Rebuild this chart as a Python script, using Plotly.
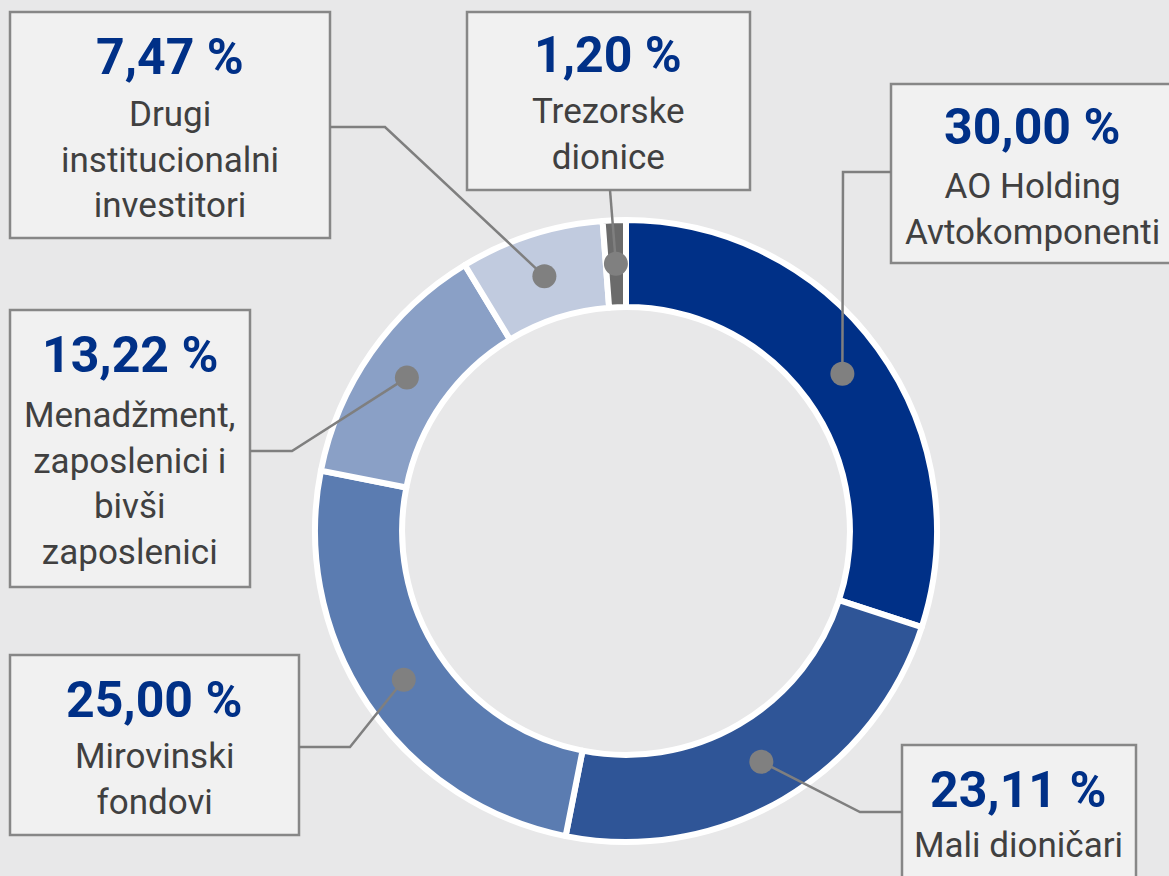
import math
import plotly.graph_objects as go

# ownership structure, clockwise from 12 o'clock
holders = ["AO Holding Avtokomponenti", "Mali dioničari", "Mirovinski fondovi",
           "Menadžment, zaposlenici i bivši zaposlenici",
           "Drugi institucionalni investitori", "Trezorske dionice"]
shares = [30.00, 23.11, 25.00, 13.22, 7.47, 1.20]
box_text = ["AO Holding<br>Avtokomponenti", "Mali dioničari", "Mirovinski<br>fondovi",
            "Menadžment,<br>zaposlenici i<br>bivši<br>zaposlenici",
            "Drugi<br>institucionalni<br>investitori", "Trezorske<br>dionice"]
slice_colors = ["#003087", "#2f5597", "#5b7cb1", "#8aa0c6", "#c1cbdf", "#6b6b6b"]

W, H = 1169, 876
cx, cy, R, hole = 626, 531, 311, 0.72

# callout layout in pixels: box (x0, y0, x1, y1), pct y, label y, leader start, elbow
callouts = [
    dict(box=(891, 84, 1180, 263), tx=1032, py=127, ly=209, start=(891, 172), elbow=(843, 172)),
    dict(box=(902, 745, 1136, 890), tx=1018, py=790, ly=845, start=(902, 812), elbow=(860, 812)),
    dict(box=(10, 655, 299, 835), tx=154, py=700, ly=779, start=(299, 747), elbow=(350, 747)),
    dict(box=(10, 310, 250, 587), tx=130, py=355, ly=484, start=(250, 451), elbow=(292, 451)),
    dict(box=(10, 12, 330, 238), tx=170, py=57, ly=160, start=(330, 127), elbow=(385, 127)),
    dict(box=(467, 12, 750, 190), tx=608, py=55, ly=134, start=(610, 190), elbow=None),
]

fig = go.Figure()

fig.add_trace(go.Pie(
    labels=holders, values=shares, sort=False, direction="clockwise", rotation=0,
    hole=hole, textinfo="none", hoverinfo="label+percent", showlegend=False,
    marker=dict(colors=slice_colors, line=dict(color="white", width=6)),
    domain=dict(x=[(cx - R) / W, (cx + R) / W], y=[(H - cy - R) / H, (H - cy + R) / H]),
))

# invisible pixel axes for the callouts
fig.add_trace(go.Scatter(x=[0, W], y=[0, H], mode="markers", marker=dict(opacity=0),
                         hoverinfo="skip", showlegend=False))

total = sum(shares)
cum = 0
r_mid = R * (1 + hole) / 2
for v, txt, c in zip(shares, box_text, callouts):
    ang = math.radians((cum + v / 2) / total * 360)
    cum += v
    dx = cx + r_mid * math.sin(ang)
    dy = cy - r_mid * math.cos(ang)

    x0, y0, x1, y1 = c["box"]
    fig.add_shape(type="rect", x0=x0, y0=y0, x1=x1, y1=y1, xref="x", yref="y",
                  line=dict(color="#878787", width=2.5), fillcolor="rgba(243,243,243,0.8)",
                  layer="above")
    pts = [c["start"]] + ([c["elbow"]] if c["elbow"] else []) + [(dx, dy)]
    path = "M " + " L ".join(f"{px},{py}" for px, py in pts)
    fig.add_shape(type="path", path=path, xref="x", yref="y",
                  line=dict(color="#7f7f7f", width=2.5), layer="above")
    fig.add_shape(type="circle", x0=dx - 12, x1=dx + 12, y0=dy - 12, y1=dy + 12,
                  xref="x", yref="y", line=dict(width=0), fillcolor="#808080", layer="above")

    pct = f"{v:.2f}".replace(".", ",") + " %"
    fig.add_annotation(x=c["tx"], y=c["py"], xref="x", yref="y", text=f"<b>{pct}</b>",
                       showarrow=False, font=dict(family="Roboto", size=50, color="#003087"),
                       xanchor="center", yanchor="middle")
    fig.add_annotation(x=c["tx"], y=c["ly"], xref="x", yref="y", text=txt,
                       showarrow=False, font=dict(family="Roboto", size=35, color="#404040"),
                       xanchor="center", yanchor="middle", align="center")

fig.update_layout(
    width=W, height=H, margin=dict(l=0, r=0, t=0, b=0),
    paper_bgcolor="#e8e8e9", plot_bgcolor="rgba(0,0,0,0)",
    xaxis=dict(range=[0, W], visible=False, domain=[0, 1], fixedrange=True),
    yaxis=dict(range=[H, 0], visible=False, domain=[0, 1], fixedrange=True),
)

# drop the browser's default page margin so the figure fills the window exactly
fig.write_html("out.html", config={"displayModeBar": False},
               post_script="document.body.style.margin='0';")
